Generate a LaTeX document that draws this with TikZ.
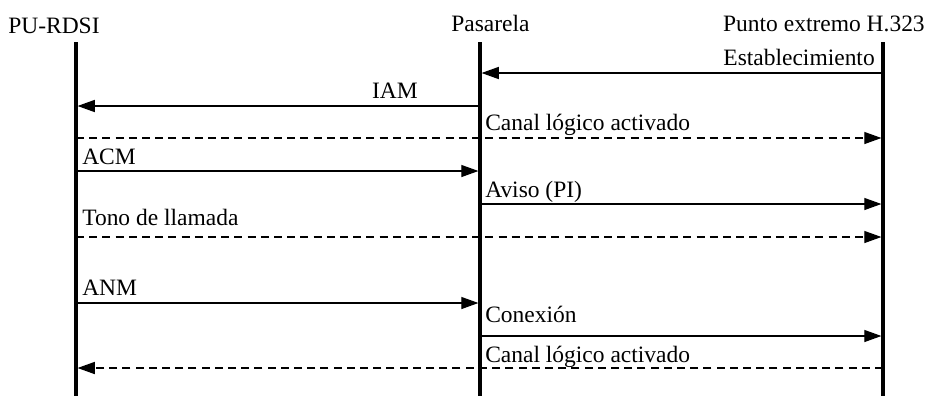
\documentclass[tikz,border=0pt]{standalone}
\usepackage{fontspec}
\setmainfont{Liberation Serif}
\usetikzlibrary{arrows.meta}

\tikzset{
  lifeline/.style={line width=2.2pt},
  msg/.style={line width=1pt, shorten >=1.1pt, -{Triangle[length=4.3mm,width=3mm]}},
  msgdash/.style={msg, dash pattern=on 2mm off 1.3mm},
  lbl/.style={inner sep=0pt, font=\fontsize{16.7}{20}\selectfont},
}

\begin{document}
\begin{tikzpicture}[x=0.025cm, y=-0.025cm]
    \useasboundingbox (0,0) rectangle (928,396);
    % entities
    \node[lbl, anchor=base west] (isupname) at (8,33) {PU-RDSI};
    \node[lbl, anchor=base west] (gwname) at (451,31) {Pasarela};
    \node[lbl, anchor=base east] (epname) at (925,31) {Punto extremo H.323};
    \coordinate (isuptop) at (76,42);
    \coordinate (isupbot) at (76,396);
    \coordinate (gwtop) at (480,42);
    \coordinate (gwbot) at (480,396);
    \coordinate (eptop) at (883,42);
    \coordinate (epbot) at (883,396);
    \draw[lifeline] (isuptop) -- (isupbot);
    \draw[lifeline] (gwtop) -- (gwbot);
    \draw[lifeline] (eptop) -- (epbot);
    % message levels
    \foreach \n/\y in {1/73,2/106,3/138,4/171,5/204,6/237,7/303,8/336,9/368} {
      \coordinate (isup\n) at (76,\y);
      \coordinate (gw\n) at (480,\y);
      \coordinate (ep\n) at (883,\y);
    }
    % messages
    \draw[msg] (ep1) -- (gw1);
    \node[lbl, anchor=base east] (estlbl) at (875,65) {Establecimiento};
    \draw[msg] (gw2) -- (isup2);
    \node[lbl, anchor=base east] (iamlbl) at (418,98) {IAM};
    \draw[msgdash] (isup3) -- (ep3);
    \node[lbl, anchor=base west] (canallbl) at (485,130) {Canal lógico activado};
    \draw[msg] (isup4) -- (gw4);
    \node[lbl, anchor=base west] (acmlbl) at (82,164) {ACM};
    \draw[msg] (gw5) -- (ep5);
    \node[lbl, anchor=base west] (avisolbl) at (485,197) {Aviso (PI)};
    \draw[msgdash] (isup6) -- (ep6);
    \node[lbl, anchor=base west] (tonolbl) at (82,225) {Tono de llamada};
    \draw[msg] (isup7) -- (gw7);
    \node[lbl, anchor=base west] (anmlbl) at (82,295) {ANM};
    \draw[msg] (gw8) -- (ep8);
    \node[lbl, anchor=base west] (conexlbl) at (485,322) {Conexión};
    \draw[msgdash] (ep9) -- (isup9);
    \node[lbl, anchor=base west] (canal2lbl) at (485,362) {Canal lógico activado};
\end{tikzpicture}
\end{document}
